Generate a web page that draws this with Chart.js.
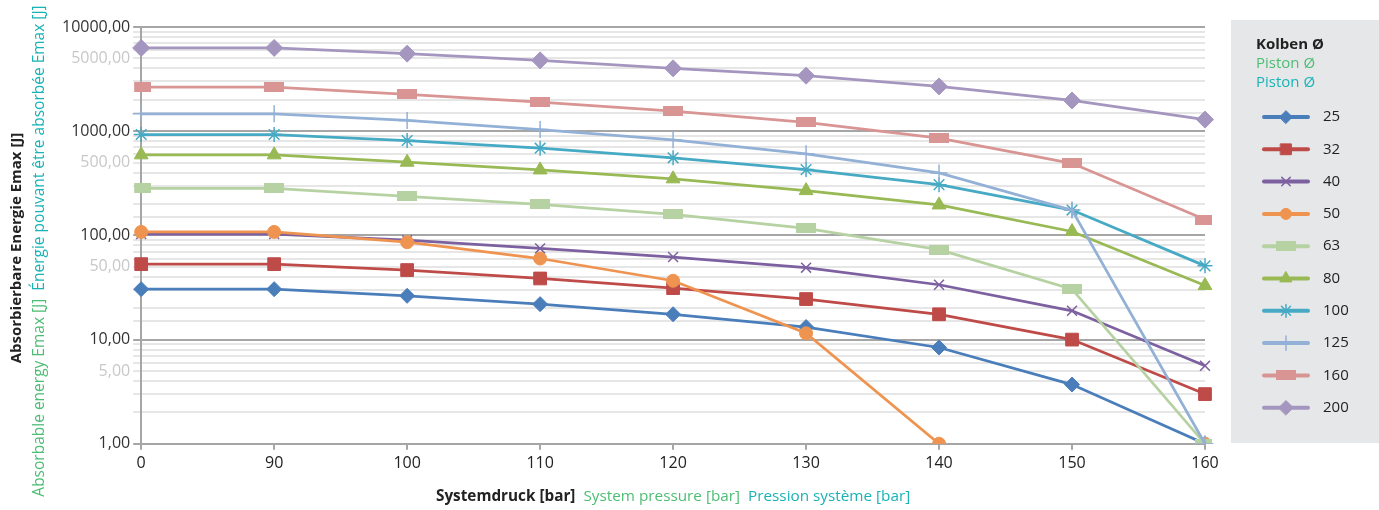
<!DOCTYPE html>
<html>
<head>
<meta charset="utf-8">
<script src="https://cdn.jsdelivr.net/npm/chart.js@4/dist/chart.umd.min.js"></script>
<style>
	html, body { margin: 0; padding: 0; background: #fff; }
	#wrap { width: 1379px; height: 510px; }
</style>
</head>
<body>
<div id="wrap"><canvas id="chart_energy" width="1379" height="510"></canvas></div>
<script>
'use strict';

/* =========== Data ====================================== */
var pressures = ['0', '90', '100', '110', '120', '130', '140', '150', '160'];
var pistons   = ['25', '32', '40', '50', '63', '80', '100', '125', '160', '200'];

var e25  = [30.5, 30.5, 26.3, 21.9, 17.5, 13.2, 8.4, 3.7, 1];
var e32  = [53, 53, 46.5, 38.6, 31.2, 24.5, 17.5, 10, 3];
var e40  = [103, 103, 90, 75, 62, 49, 33.6, 18.9, 5.6];
var e50  = [108, 108, 86, 60, 36.7, 11.5, 1, null, 1];
var e63  = [283, 283, 237, 199, 159, 117, 73, 30.5, 1];
var e80  = [593, 593, 504, 425, 349, 269, 196, 109, 33];
var e100 = [929, 929, 814, 687, 555, 428, 307, 175, 51];
var e125 = [1470, 1470, 1268, 1038, 827, 606, 398, 175, 1];
var e160 = [2650, 2650, 2254, 1900, 1557, 1213, 857, 492, 142];
var e200 = [6300, 6300, 5550, 4785, 4010, 3410, 2690, 1974, 1292];

var series = [e25, e32, e40, e50, e63, e80, e100, e125, e160, e200];
/* ------------------------------------------------ */

var FONT = '"Open Sans", "Noto Sans", sans-serif';
var GREEN = '#4dbd74';
var TEAL = '#19b3b6';
var DARK = '#222222';

// flat rectangle marker (Excel style)
function flatRect(color) {
	var c = document.createElement('canvas');
	c.width = 20; c.height = 10;
	var g = c.getContext('2d');
	g.fillStyle = color;
	g.fillRect(0, 0, 20, 10);
	return c;
}

var colors = ['#4a7ebb', '#be4b48', '#7d60a0', '#ef9450', '#b7d2a2',
              '#98b954', '#46aac5', '#93b1d6', '#d89593', '#a596c0'];
var markers = [
	{ style: 'rectRot', r: 7.5, bw: 1 },
	{ style: 'rect', r: 9, bw: 1 },
	{ style: 'crossRot', r: 7, bw: 1.5 },
	{ style: 'circle', r: 6.5, bw: 1 },
	{ style: flatRect(colors[4]), r: 6, bw: 1 },
	{ style: 'triangle', r: 8, bw: 1 },
	{ style: 'star', r: 7.5, bw: 1.5 },
	{ style: 'cross', r: 8.5, bw: 1.5 },
	{ style: flatRect(colors[8]), r: 6, bw: 1 },
	{ style: 'rectRot', r: 8.5, bw: 1 }
];

var datasets = series.map(function (vals, i) {
	return {
		label: pistons[i],
		data: vals,
		borderColor: colors[i],
		backgroundColor: colors[i],
		borderWidth: 2.75,
		pointStyle: markers[i].style,
		pointRadius: markers[i].r,
		pointHoverRadius: markers[i].r,
		pointBorderWidth: markers[i].bw,
		pointBackgroundColor: colors[i],
		pointBorderColor: colors[i],
		tension: 0,
		fill: false,
		spanGaps: false,
		order: series.length - 1 - i
	};
});

function isDecade(v) {
	var e = Math.log10(v);
	return Math.abs(e - Math.round(e)) < 1e-9;
}
function isFive(v) {
	var p = Math.pow(10, Math.floor(Math.log10(v) + 1e-9));
	return Math.abs(v / p - 5) < 1e-9;
}
function fmt(v) {
	return v.toFixed(2).replace('.', ',');
}

/* =========== Titles & legend box ================= */
var decorPlugin = {
	id: 'decor',
	beforeDraw: function (chart) {
		var ctx = chart.ctx;
		ctx.save();
		ctx.fillStyle = '#e6e7e8';
		ctx.fillRect(1231, 20, 148, 423);
		ctx.restore();
	},
	afterDraw: function (chart) {
		var ctx = chart.ctx;
		var area = chart.chartArea;
		var H = Chart.helpers;
		ctx.save();

		// x axis title (three languages)
		var xs = [
			{ t: 'Systemdruck [bar]', f: 'bold 15.3px ' + FONT, c: DARK },
			{ t: 'System pressure [bar]', f: '15.3px ' + FONT, c: GREEN },
			{ t: 'Pression système [bar]', f: '15.3px ' + FONT, c: TEAL }
		];
		drawRow(ctx, xs, (area.left + area.right) / 2, 497, 8);

		// y axis title, rotated
		ctx.save();
		ctx.translate(17, 248);
		ctx.rotate(-Math.PI / 2);
		drawRow(ctx, [{ t: 'Absorbierbare Energie Emax [J]', f: 'bold 15px ' + FONT, c: DARK }], 0, 0, 0);
		ctx.restore();
		ctx.save();
		ctx.translate(40, 251);
		ctx.rotate(-Math.PI / 2);
		drawRow(ctx, [
			{ t: 'Absorbable energy Emax [J]', f: '15.5px ' + FONT, c: GREEN },
			{ t: 'Énergie pouvant être absorbée Emax [J]', f: '15.5px ' + FONT, c: TEAL }
		], 0, 0, 8);
		ctx.restore();

		// legend
		ctx.textBaseline = 'middle';
		ctx.textAlign = 'left';
		ctx.font = 'bold 15px ' + FONT;
		ctx.fillStyle = DARK;
		ctx.fillText('Kolben Ø', 1256, 45);
		ctx.font = '15px ' + FONT;
		ctx.fillStyle = GREEN;
		ctx.fillText('Piston Ø', 1256, 64);
		ctx.fillStyle = TEAL;
		ctx.fillText('Piston Ø', 1256, 83);

		chart.data.datasets.forEach(function (ds, i) {
			var y = 117 + i * 32.3;
			ctx.strokeStyle = ds.borderColor;
			ctx.lineWidth = 4;
			ctx.lineCap = 'round';
			ctx.beginPath();
			ctx.moveTo(1264, y);
			ctx.lineTo(1308, y);
			ctx.stroke();
			ctx.fillStyle = ds.pointBackgroundColor;
			ctx.strokeStyle = ds.pointBorderColor;
			ctx.lineWidth = ds.pointBorderWidth;
			H.drawPoint(ctx, { pointStyle: ds.pointStyle, radius: ds.pointRadius * 0.85, rotation: 0, borderWidth: ds.pointBorderWidth }, 1286, y);
			ctx.fillStyle = DARK;
			ctx.font = '15px ' + FONT;
			ctx.fillText(ds.label, 1323, y);
		});
		ctx.restore();
	}
};

function drawRow(ctx, parts, cx, y, gap) {
	var total = 0;
	parts.forEach(function (p) { ctx.font = p.f; p.w = ctx.measureText(p.t).width; total += p.w; });
	total += gap * (parts.length - 1);
	var x = cx - total / 2;
	ctx.textBaseline = 'middle';
	ctx.textAlign = 'left';
	parts.forEach(function (p) {
		ctx.font = p.f;
		ctx.fillStyle = p.c;
		ctx.fillText(p.t, x, y);
		x += p.w + gap;
	});
}
/* ------------------------------------------------ */

var ctx1 = document.getElementById('chart_energy');
var chart_energy = new Chart(ctx1, {
	type: 'line',
	data: {
		labels: pressures,
		datasets: datasets
	},
	options: {
		responsive: false,
		animation: false,
		layout: {
			padding: { left: 59, right: 174, top: 27, bottom: 33 }
		},
		plugins: {
			legend: { display: false },
			tooltip: { enabled: false }
		},
		scales: {
			x: {
				type: 'category',
				offset: false,
				grid: {
					display: true,
					drawOnChartArea: false,
					drawTicks: true,
					tickLength: 6,
					color: '#a6a6a6',
					lineWidth: 2
				},
				border: { display: true, color: '#a6a6a6', width: 2 },
				ticks: {
					color: DARK,
					padding: 4,
					maxRotation: 0,
					font: { family: FONT, size: 16 }
				}
			},
			y: {
				type: 'logarithmic',
				min: 1,
				max: 10000,
				grid: {
					drawTicks: true,
					tickLength: 8,
					lineWidth: 2,
					color: function (c) {
						return c.tick && isDecade(c.tick.value) ? '#a6a6a6' : '#e6e6e6';
					}
				},
				border: { display: true, color: '#a6a6a6', width: 2 },
				ticks: {
					autoSkip: false,
					padding: 3,
					font: { family: FONT, size: 16 },
					color: function (c) {
						return c.tick && isDecade(c.tick.value) ? '#333333' : '#c8c8c8';
					},
					callback: function (v) {
						if (isDecade(v) || isFive(v)) return fmt(v);
						return '';
					}
				}
			}
		}
	},
	plugins: [decorPlugin]
});
</script>
</body>
</html>
